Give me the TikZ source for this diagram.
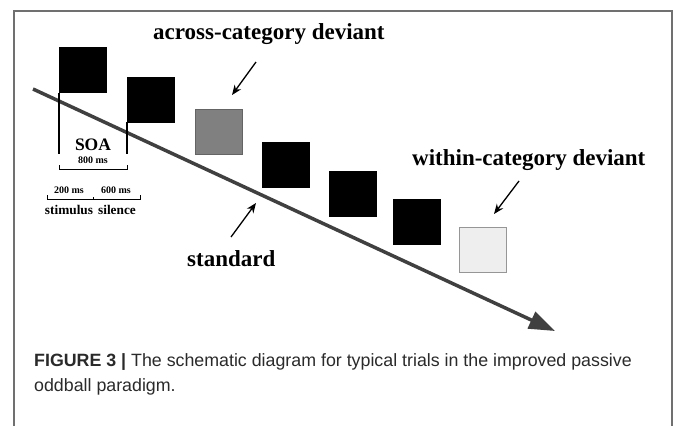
\documentclass[tikz,border=0pt]{standalone}
\usepackage{fontspec}
\setmainfont{Liberation Serif}
\newfontfamily\capfont{Liberation Sans}
\usetikzlibrary{arrows.meta}
\definecolor{axisgray}{HTML}{404040}
\definecolor{framegray}{HTML}{707070}
\definecolor{capgray}{HTML}{2A2A2A}
\begin{document}
\begin{tikzpicture}[x=1pt,y=-1pt,
  sq/.style={draw=black,line width=0.8pt,fill=black,minimum width=47pt,minimum height=45pt,inner sep=0pt,anchor=north west},
  lbl/.style={font=\bfseries\fontsize{23}{26}\selectfont,inner sep=0pt,anchor=base west},
  small/.style={font=\bfseries\fontsize{10}{12}\selectfont,inner sep=0pt},
  pointer/.style={-{Stealth[length=10pt,width=8pt]},line width=1.3pt},
  brk/.style={line width=1pt}]
\useasboundingbox (0,0) rectangle (674,426);
% frame
\draw[framegray,line width=1.5pt] (14,426) -- (14,11) -- (672,11) -- (672,426);
% squares
\node[sq] (s1) at (59,47) {};
\node[sq] (s2) at (127,77) {};
\node[sq,fill={rgb,255:red,128;green,128;blue,128},draw={rgb,255:red,100;green,100;blue,100}] (s3) at (195,109) {};
\node[sq] (s4) at (262,142) {};
\node[sq] (s5) at (329,171) {};
\node[sq] (s6) at (393,199) {};
\node[sq,fill={rgb,255:red,238;green,238;blue,238},draw={rgb,255:red,150;green,150;blue,150}] (s7) at (459,227) {};
% time axis
\coordinate (t0) at (33,89);
\coordinate (t1) at (555,331);
\draw[axisgray,line width=3.5pt,-{Triangle[length=26pt,width=18pt]}] (t0) -- (t1);
% SOA markers
\coordinate (v1a) at (59,93);
\coordinate (v1b) at (59,154);
\coordinate (v2a) at (127,122);
\coordinate (v2b) at (127,154);
\draw[line width=1.6pt] (v1a) -- (v1b);
\draw[line width=1.6pt] (v2a) -- (v2b);
\node[font=\bfseries\fontsize{17.5}{20}\selectfont,inner sep=0pt] (soa) at (93,145) {SOA};
\node[small] (ms800) at (93,160) {800 ms};
\draw[brk] (59,165) -- (59,169) -- (127,169) -- (127,165);
% stimulus/silence
\node[small] (ms200) at (69,190) {200 ms};
\node[small] (ms600) at (116,190) {600 ms};
\draw[brk] (47,195) -- (47,199) -- (140,199) -- (140,195);
\draw[brk] (93,197) -- (93,199);
\node[font=\bfseries\fontsize{13.3}{15}\selectfont,inner sep=0pt] (stim) at (69,210) {stimulus};
\node[font=\bfseries\fontsize{13.3}{15}\selectfont,inner sep=0pt] (sil) at (117,210) {silence};
% labels
\node[lbl] (across) at (153,39) {across-category deviant};
\node[lbl] (within) at (412,165) {within-category deviant};
\node[lbl] (standard) at (187,266) {standard};
\coordinate (a1) at (256,62);
\coordinate (a2) at (232,95);
\draw[pointer] (a1) -- (a2);
\coordinate (b1) at (231,237);
\coordinate (b2) at (256,203);
\draw[pointer] (b1) -- (b2);
\coordinate (c1) at (519,181);
\coordinate (c2) at (494,214);
\draw[pointer] (c1) -- (c2);
% caption
\node[font=\capfont\fontsize{17.8}{25}\selectfont,text=capgray,align=left,anchor=north west,inner sep=0pt] (cap) at (34,353) {\textbf{FIGURE 3 |} The schematic diagram for typical trials in the improved passive\\oddball paradigm.};
\end{tikzpicture}
\end{document}
